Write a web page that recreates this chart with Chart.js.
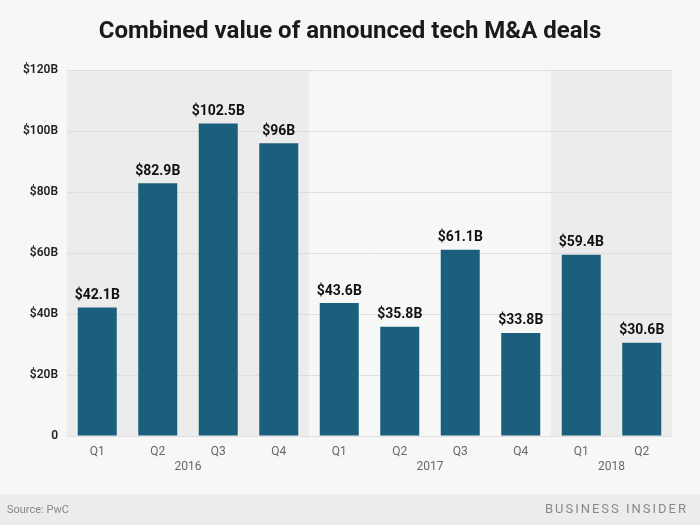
<!DOCTYPE html>
<html>
<head>
<meta charset="utf-8">
<script src="https://cdn.jsdelivr.net/npm/chart.js@4.4.1/dist/chart.umd.min.js"></script>
<style>
  html, body { margin: 0; padding: 0; background: #f7f7f7; }
  #wrap { width: 700px; height: 525px; position: relative; }
</style>
</head>
<body>
<div id="wrap"><canvas id="dealsChart" width="700" height="525"></canvas></div>
<script>
const quarters = ['Q1', 'Q2', 'Q3', 'Q4', 'Q1', 'Q2', 'Q3', 'Q4', 'Q1', 'Q2'];
const dealValues = [42.1, 82.9, 102.5, 96, 43.6, 35.8, 61.1, 33.8, 59.4, 30.6];
const years = ['2016', '2017', '2018'];
const yearStarts = [0, 4, 8]; // first category index of each year
const yearEnds = [3, 7, 9];
const yTicks = [0, 20, 40, 60, 80, 100, 120];

const barColor = '#1c5f7d';

// shaded year bands, title, year labels, data labels, footer
const decorPlugin = {
    id: 'decor',
    beforeDraw(chart) {
        const { ctx, chartArea, scales } = chart;
        const x = scales.x;
        const half = (x.getPixelForValue(1) - x.getPixelForValue(0)) / 2;
        ctx.save();
        ctx.fillStyle = '#f7f7f7';
        ctx.fillRect(0, 0, chart.width, chart.height);
        years.forEach((yr, i) => {
            if (i === 1) return; // middle year stays light
            const left = x.getPixelForValue(yearStarts[i]) - half;
            const right = x.getPixelForValue(yearEnds[i]) + half;
            ctx.fillStyle = '#ececec';
            ctx.fillRect(left, chartArea.top, right - left, chartArea.bottom - chartArea.top);
        });
        ctx.restore();
    },
    afterDraw(chart) {
        const { ctx, chartArea, scales } = chart;
        const x = scales.x;
        ctx.save();
        // title
        ctx.fillStyle = '#1a1a1a';
        ctx.font = 'bold 24px "Roboto"';
        ctx.textAlign = 'center';
        ctx.textBaseline = 'middle';
        ctx.fillText('Combined value of announced tech M&A deals', 350, 32);

        // year labels
        ctx.fillStyle = '#666';
        ctx.font = '12px "Roboto"';
        years.forEach((yr, i) => {
            const cx = (x.getPixelForValue(yearStarts[i]) + x.getPixelForValue(yearEnds[i])) / 2;
            ctx.fillText(yr, cx, chartArea.bottom + 31);
        });

        // data labels
        ctx.fillStyle = '#111';
        ctx.font = 'bold 14px "Roboto"';
        ctx.textBaseline = 'bottom';
        const meta = chart.getDatasetMeta(0);
        meta.data.forEach((bar, i) => {
            ctx.fillText('$' + dealValues[i] + 'B', bar.x, bar.y - 5);
        });

        // footer
        ctx.fillStyle = '#ececec';
        ctx.fillRect(0, 494, chart.width, chart.height - 494);
        ctx.fillStyle = '#888';
        ctx.font = '11px "Roboto"';
        ctx.textAlign = 'left';
        ctx.textBaseline = 'middle';
        ctx.fillText('Source: PwC', 7, 510);
        ctx.font = '13px "Roboto"';
        ctx.textAlign = 'right';
        ctx.letterSpacing = '2px';
        ctx.fillText('BUSINESS INSIDER', 688, 510);
        ctx.restore();
    }
};

const ctx = document.getElementById('dealsChart').getContext('2d');
new Chart(ctx, {
    type: 'bar',
    data: {
        labels: quarters,
        datasets: [{
            data: dealValues,
            backgroundColor: barColor,
            barPercentage: 0.645,
            categoryPercentage: 1
        }]
    },
    options: {
        responsive: false,
        animation: false,
        layout: { padding: { top: 70, right: 28, bottom: 0, left: 0 } },
        plugins: { legend: { display: false }, tooltip: { enabled: false } },
        scales: {
            x: {
                grid: { display: false },
                border: { display: false },
                ticks: { color: '#666', font: { family: 'Roboto', size: 12 }, padding: 1 },
                afterFit: s => { s.height = 89; }
            },
            y: {
                min: 0,
                max: 120,
                afterBuildTicks: s => { s.ticks = yTicks.map(v => ({ value: v })); },
                grid: { color: '#dedede', drawTicks: false },
                border: { display: false },
                ticks: {
                    color: '#222',
                    font: { family: 'Roboto', size: 12, weight: '600' },
                    padding: 9,
                    callback: v => v === 0 ? '0' : '$' + v + 'B'
                },
                afterFit: s => { s.width = 67; }
            }
        }
    },
    plugins: [decorPlugin]
});
</script>
</body>
</html>
